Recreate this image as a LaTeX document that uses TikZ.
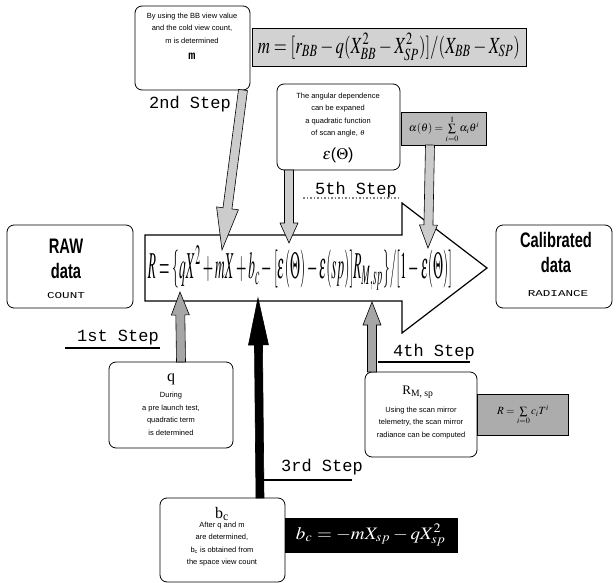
\documentclass[tikz,border=0pt]{standalone}
\usepackage{mathptmx}
\usepackage{graphicx}
\usepackage{fontspec}
\setmainfont{Liberation Serif}
\newfontfamily\lsans{Liberation Sans}
\newfontfamily\lmono{Liberation Mono}
\usetikzlibrary{calc}
\newcommand\barr[6]{%
  \coordinate (hb) at ($(#2)!#3!(#1)$);
  \filldraw[#6] ($(#1)!#4!90:(#2)$) -- ($(hb)!#4!-90:(#1)$) -- ($(hb)!#5!-90:(#1)$) -- (#2)
    -- ($(hb)!#5!90:(#1)$) -- ($(hb)!#4!90:(#1)$) -- ($(#1)!#4!-90:(#2)$) -- cycle;}
\begin{document}
\begin{tikzpicture}[x=1pt,y=-1pt,
  rbox/.style={draw, rounded corners=7pt, line width=0.8pt, fill=white},
  note/.style={font=\lsans\fontsize{7.5}{12.5}\selectfont, align=center, inner sep=0},
  steplabel/.style={font=\lmono\fontsize{17}{17}\selectfont, inner sep=0},
  lightarr/.style={fill=gray!40, draw=black, line width=0.6pt},
  darkarr/.style={fill=gray!70, draw=black, line width=0.6pt},
  blackarr/.style={fill=black, draw=black, line width=0.6pt},
  fbox/.style={draw, line width=0.6pt, inner sep=0},
]
\useasboundingbox (0,0) rectangle (616,583);

% big arrow
\draw[line width=1.2pt, fill=white] (145,235) -- (402,235) -- (402,203) -- (487,268) -- (402,333) -- (402,301) -- (145,301) -- cycle;
\node[inner sep=0] (F) at (300,268) {\resizebox*{304pt}{44pt}{$R=\{qX^2+mX+b_c-[\varepsilon(\Theta)-\varepsilon(sp)]R_{M,sp}\}/[1-\varepsilon(\Theta)]$}};

% RAW / Calibrated
\draw[rbox] (7,225) rectangle (133,308);
\node[inner sep=0] (raw1) at (66,246) {\scalebox{0.7}[1]{\lsans\bfseries\fontsize{21}{21}\selectfont RAW}};
\node[inner sep=0] (raw2) at (66,271) {\scalebox{0.7}[1]{\lsans\bfseries\fontsize{21}{21}\selectfont data}};
\node[inner sep=0] (raw3) at (66,296) {\scalebox{1.4}[1]{\lmono\fontsize{9}{9}\selectfont COUNT}};
\draw[rbox] (496,225) rectangle (612,308);
\node[inner sep=0] (cal1) at (556,240) {\scalebox{0.7}[1]{\lsans\bfseries\fontsize{21}{21}\selectfont Calibrated}};
\node[inner sep=0] (cal2) at (556,265) {\scalebox{0.7}[1]{\lsans\bfseries\fontsize{21}{21}\selectfont data}};
\node[inner sep=0] (cal3) at (558,294) {\scalebox{1.4}[1]{\lmono\fontsize{9}{9}\selectfont RADIANCE}};

% 2nd step
\draw[rbox] (135,6) rectangle (250,90);
\node[note] (t2) at (192,28) {By using the BB view value\\and the cold view count,\\m is determined};
\node[inner sep=0] (m2) at (192,56) {\lmono\bfseries\fontsize{12}{12}\selectfont m};
\node[fbox, fill=gray!35, minimum width=274, minimum height=38] (mf) at (389,47) {};
\node[inner sep=0] at (mf) {\resizebox*{262pt}{27pt}{$m=[r_{BB}-q(X_{BB}^2-X_{SP}^2)]/(X_{BB}-X_{SP})$}};
\node[steplabel] (s2) at (190,104) {2nd Step};
\coordinate (a2s) at (243,90);
\coordinate (a2t) at (222,250);
\barr{a2s}{a2t}{42pt}{4.5pt}{11pt}{lightarr}

% epsilon box
\draw[rbox] (277,84) rectangle (400,170);
\node[note] (te) at (338,115) {The angular dependence\\can be expaned\\a quadratic function\\of scan angle, $\theta$};
\node[inner sep=0] (eps) at (338,155) {\lsans\fontsize{16}{16}\selectfont $\varepsilon$($\Theta$)};
\node[fbox, fill=gray!55, minimum width=85, minimum height=33] (af) at (444,129) {};
\node[inner sep=0] at (af) {\fontsize{11}{11}\selectfont $\alpha(\theta)=\sum\limits_{i=0}^{1}\alpha_i\theta^i$};
\coordinate (aes) at (289,170);
\coordinate (aet) at (289,243);
\barr{aes}{aet}{20pt}{4.5pt}{9pt}{lightarr}
\coordinate (aas) at (430,145);
\coordinate (aat) at (428,248);
\barr{aas}{aat}{23pt}{4.5pt}{9pt}{lightarr}
\node[steplabel] (s5) at (356,190) {5th Step};
\draw[gray, dotted, line width=1.5pt] (303,198) -- (400,198);

% 1st step
\node[steplabel] (s1) at (118,338) {1st Step};
\draw[line width=2pt] (65,348) -- (160,348);
\draw[rbox] (109,362) rectangle (233,448);
\node[inner sep=0] (q) at (171,379) {\fontsize{16}{16}\selectfont q};
\node[note] (tq) at (171,414) {During\\a pre launch test,\\quadratic term\\is determined};
\coordinate (aqs) at (181,362);
\coordinate (aqt) at (180,292);
\barr{aqs}{aqt}{23pt}{4.5pt}{9pt}{darkarr}

% 4th step
\node[steplabel] (s4) at (434,352) {4th Step};
\draw[line width=1.5pt] (378,362) -- (470,362);
\draw[rbox] (365,372) rectangle (477,457);
\node[inner sep=0] (rm) at (418,392) {\fontsize{13}{13}\selectfont R\textsubscript{M, sp}};
\node[note] (tr) at (421,423) {Using the scan mirror\\telemetry, the scan mirror\\radiance can be computed};
\node[fbox, fill=gray!65, minimum width=91, minimum height=41] (rf) at (523,415) {};
\node[inner sep=0] at (rf) {\fontsize{11}{11}\selectfont $R=\sum\limits_{i=0} c_iT^i$};
\coordinate (ars) at (372,372);
\coordinate (art) at (372,302);
\barr{ars}{art}{23pt}{4.5pt}{9pt}{darkarr}

% 3rd step
\node[steplabel] (s3) at (322,467) {3rd Step};
\draw[line width=2pt] (264,480) -- (352,480);
\draw[rbox] (160,498) rectangle (285,582);
\node[inner sep=0] (bc) at (222,514) {\fontsize{16}{16}\selectfont b\textsubscript{c}};
\node[note] (tb) at (222,544) {After q and m\\are determined,\\b\textsubscript{c} is obtained from\\the space view count};
\node[fbox, fill=black, minimum width=172, minimum height=34] (bf) at (371,535) {};
\node[inner sep=0, text=white] at (bf) {\resizebox*{150pt}{22pt}{$b_c=-mX_{sp}-qX^{2}_{sp}$}};
\coordinate (abs) at (260,498);
\coordinate (abt) at (258,298);
\barr{abs}{abt}{47pt}{4pt}{10pt}{blackarr}
\end{tikzpicture}
\end{document}
